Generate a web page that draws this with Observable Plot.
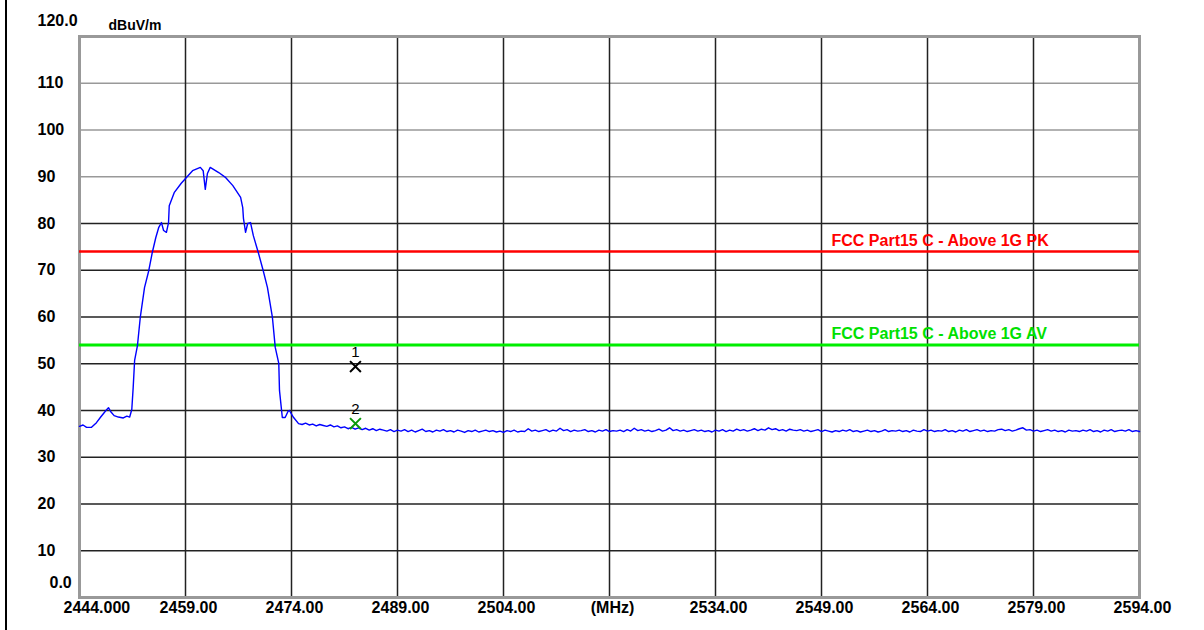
<!DOCTYPE html>
<html><head><meta charset="utf-8">
<script src="https://cdn.jsdelivr.net/npm/d3@7"></script>
<script src="https://cdn.jsdelivr.net/npm/@observablehq/plot@0.6"></script>
<style>
html,body{margin:0;padding:0;background:#fff;}
#wrap{position:relative;width:1204px;height:630px;overflow:hidden;background:#fff;}
#edge{position:absolute;left:5px;top:0;width:2px;height:630px;background:#000;z-index:2;}
svg{display:block;}
</style></head>
<body><div id="wrap"><div id="edge"></div></div>
<script>
// Axis ticks and labels
const xTicks = [2444, 2459, 2474, 2489, 2504, 2519, 2534, 2549, 2564, 2579, 2594];
const xLabels = ["2444.000", "2459.00", "2474.00", "2489.00", "2504.00", "(MHz)", "2534.00", "2549.00", "2564.00", "2579.00", "2594.00"];
const yTicks = [10, 20, 30, 40, 50, 60, 70, 80, 90, 100, 110];
const yGridGray = [90, 100, 110];
const yGridBlack = [10, 20, 30, 40, 50, 60, 70, 80];
const unitLabel = "dBuV/m";

// Limit lines
const limitNames = ["FCC Part15 C - Above 1G PK", "FCC Part15 C - Above 1G AV"];
const limitValues = [74, 54];

// Markers
const markerNames = ["1", "2"];
const markerFreq = [2483.05, 2483.05];
const markerLevel = [49.4, 37.2];

// Trace: signal part (MHz, dBuV/m)
const signalFreq = [
  2444.0, 2444.5, 2445.0, 2445.7, 2446.4, 2447.0, 2447.8, 2448.1, 2448.4, 2448.9,
  2449.5, 2450.2, 2450.7, 2451.1, 2451.4, 2451.6, 2451.8, 2452.2, 2452.6, 2453.2,
  2453.8, 2454.3, 2454.8, 2455.2, 2455.6, 2455.9, 2456.3, 2456.6, 2456.7, 2457.4,
  2458.4, 2459.1, 2460.0, 2461.1, 2461.5, 2461.8, 2462.1, 2462.5, 2463.7, 2464.7,
  2465.7, 2466.8, 2467.1, 2467.2, 2467.5, 2467.8, 2468.2, 2468.6, 2469.3, 2470.0,
  2470.6, 2471.3, 2471.7, 2472.2, 2472.3, 2472.7, 2473.1, 2473.5, 2473.7, 2474.3,
  2475.0
];
const signalLevel = [
  36.6, 36.9, 36.4, 36.4, 37.4, 38.6, 40.1, 40.6, 39.8, 38.9,
  38.6, 38.4, 38.8, 38.6, 40.2, 45.0, 50.7, 53.9, 59.9, 66.3,
  69.9, 73.8, 77.0, 79.1, 80.2, 78.5, 78.1, 80.2, 83.8, 86.6,
  88.6, 89.8, 91.3, 92.0, 91.3, 87.3, 90.7, 92.0, 90.9, 89.8,
  88.1, 85.6, 83.4, 81.1, 78.1, 80.0, 80.2, 77.4, 73.8, 69.9,
  66.3, 59.9, 53.5, 50.1, 44.3, 38.5, 38.5, 39.8, 40.0, 38.5,
  37.2
];
// Trace: noise floor part
const floorFreq = [
  2475.5, 2476.0, 2476.5, 2477.0, 2477.5, 2478.0, 2478.5, 2479.0, 2479.5, 2480.0,
  2480.5, 2481.0, 2481.5, 2482.0, 2482.5, 2483.0, 2483.5, 2484.0, 2484.5, 2485.0,
  2485.5, 2486.0, 2486.5, 2487.0, 2487.5, 2488.0, 2488.5, 2489.0, 2489.5, 2490.0,
  2490.5, 2491.0, 2491.5, 2492.0, 2492.5, 2493.0, 2493.5, 2494.0, 2494.5, 2495.0,
  2495.5, 2496.0, 2496.5, 2497.0, 2497.5, 2498.0, 2498.5, 2499.0, 2499.5, 2500.0,
  2500.5, 2501.0, 2501.5, 2502.0, 2502.5, 2503.0, 2503.5, 2504.0, 2504.5, 2505.0,
  2505.5, 2506.0, 2506.5, 2507.0, 2507.5, 2508.0, 2508.5, 2509.0, 2509.5, 2510.0,
  2510.5, 2511.0, 2511.5, 2512.0, 2512.5, 2513.0, 2513.5, 2514.0, 2514.5, 2515.0,
  2515.5, 2516.0, 2516.5, 2517.0, 2517.5, 2518.0, 2518.5, 2519.0, 2519.5, 2520.0,
  2520.5, 2521.0, 2521.5, 2522.0, 2522.5, 2523.0, 2523.5, 2524.0, 2524.5, 2525.0,
  2525.5, 2526.0, 2526.5, 2527.0, 2527.5, 2528.0, 2528.5, 2529.0, 2529.5, 2530.0,
  2530.5, 2531.0, 2531.5, 2532.0, 2532.5, 2533.0, 2533.5, 2534.0, 2534.5, 2535.0,
  2535.5, 2536.0, 2536.5, 2537.0, 2537.5, 2538.0, 2538.5, 2539.0, 2539.5, 2540.0,
  2540.5, 2541.0, 2541.5, 2542.0, 2542.5, 2543.0, 2543.5, 2544.0, 2544.5, 2545.0,
  2545.5, 2546.0, 2546.5, 2547.0, 2547.5, 2548.0, 2548.5, 2549.0, 2549.5, 2550.0,
  2550.5, 2551.0, 2551.5, 2552.0, 2552.5, 2553.0, 2553.5, 2554.0, 2554.5, 2555.0,
  2555.5, 2556.0, 2556.5, 2557.0, 2557.5, 2558.0, 2558.5, 2559.0, 2559.5, 2560.0,
  2560.5, 2561.0, 2561.5, 2562.0, 2562.5, 2563.0, 2563.5, 2564.0, 2564.5, 2565.0,
  2565.5, 2566.0, 2566.5, 2567.0, 2567.5, 2568.0, 2568.5, 2569.0, 2569.5, 2570.0,
  2570.5, 2571.0, 2571.5, 2572.0, 2572.5, 2573.0, 2573.5, 2574.0, 2574.5, 2575.0,
  2575.5, 2576.0, 2576.5, 2577.0, 2577.5, 2578.0, 2578.5, 2579.0, 2579.5, 2580.0,
  2580.5, 2581.0, 2581.5, 2582.0, 2582.5, 2583.0, 2583.5, 2584.0, 2584.5, 2585.0,
  2585.5, 2586.0, 2586.5, 2587.0, 2587.5, 2588.0, 2588.5, 2589.0, 2589.5, 2590.0,
  2590.5, 2591.0, 2591.5, 2592.0, 2592.5, 2593.0, 2593.5, 2594.0
];
const floorLevel = [
  37.0, 37.3, 36.9, 37.1, 36.7, 37.0, 36.8, 36.6, 36.9, 36.5,
  36.7, 36.3, 36.5, 36.1, 36.4, 36.0, 36.3, 35.9, 36.2, 35.8,
  36.1, 35.7, 36.0, 35.8, 35.6, 35.9, 35.5, 35.8, 35.6, 35.9,
  35.5, 35.8, 35.4, 35.7, 36.0, 35.5, 35.7, 35.4, 35.8, 35.6,
  35.9, 35.5, 35.7, 35.4, 35.8, 35.6, 35.3, 35.7, 35.5, 35.8,
  35.4, 35.6, 35.8, 35.5, 35.7, 35.4, 35.6, 35.3, 35.7, 35.5,
  35.8, 35.4, 35.6, 35.5, 36.1, 35.6, 35.8, 35.5, 35.7, 35.9,
  35.5, 35.8, 35.6, 36.2, 35.7, 35.9, 35.5, 35.8, 35.6, 35.7,
  35.9, 35.5, 35.7, 35.4, 35.8, 35.6, 35.9, 35.5, 35.7, 35.6,
  35.8, 35.5, 35.9, 35.6, 36.2, 35.7, 35.9, 35.6, 35.8, 35.5,
  35.7, 36.0, 35.6, 35.8, 36.3, 35.7, 35.9, 35.6, 35.8, 35.5,
  35.7, 35.9, 35.6, 35.8, 35.5, 35.7, 35.4, 35.8, 35.6, 35.9,
  35.5, 35.8, 35.6, 36.0, 35.7, 35.9, 35.6, 35.8, 36.1, 35.7,
  36.0, 35.8, 36.3, 35.9, 36.1, 35.7, 35.9, 35.6, 36.0, 35.8,
  35.7, 35.9, 35.6, 35.8, 35.5, 35.7, 35.9, 35.5, 35.8, 35.6,
  35.4, 35.7, 35.5, 35.8, 35.6, 35.9, 35.5, 35.7, 35.4, 35.6,
  35.8, 35.5, 35.7, 35.4, 35.6, 35.9, 35.5, 35.7, 35.6, 35.8,
  35.5, 35.7, 35.4, 35.8, 35.6, 35.5, 35.9, 35.6, 35.8, 35.5,
  35.7, 35.6, 35.9, 35.5, 35.7, 35.4, 35.8, 35.6, 35.9, 35.5,
  35.7, 35.9, 35.6, 35.8, 35.5, 35.7, 35.6, 35.9, 36.0, 35.7,
  35.9, 35.6, 35.8, 36.1, 36.3, 35.8, 35.9, 35.6, 35.8, 35.5,
  35.7, 35.9, 35.6, 35.8, 35.5, 35.7, 35.4, 35.8, 35.6, 35.7,
  35.5, 35.8, 35.6, 35.9, 35.5, 35.7, 35.4, 35.8, 35.6, 35.9,
  35.5, 35.7, 35.8, 35.6, 35.9, 35.5, 35.7, 35.5
];

const trace = signalFreq.map((f, i) => ({f, v: signalLevel[i]}))
  .concat(floorFreq.map((f, i) => ({f, v: floorLevel[i]})));
const markers = markerNames.map((n, i) => ({n, f: markerFreq[i], v: markerLevel[i]}));
const limits = limitNames.map((n, i) => ({n, v: limitValues[i]}));
const xLab = xTicks.map((t, i) => ({t, s: xLabels[i]}));

const font = "'Liberation Sans', Arial, sans-serif";
const lab = {fill: "#000", fontSize: 16, fontWeight: "bold", letterSpacing: "0.5px"};

const chart = Plot.plot({
  width: 1204, height: 630,
  marginLeft: 79, marginRight: 65, marginTop: 36, marginBottom: 33,
  x: {domain: [2444, 2594], axis: null},
  y: {domain: [0, 120], axis: null},
  style: {fontFamily: font, background: "#fff", overflow: "visible"},
  marks: [
    Plot.ruleY(yGridGray, {stroke: "#999", strokeWidth: 1.5}),
    Plot.ruleY(yGridBlack, {stroke: "#222", strokeWidth: 1.5}),
    Plot.ruleX(xTicks.slice(1, -1), {stroke: "#222", strokeWidth: 1.5}),
    Plot.frame({stroke: "#999", strokeWidth: 3}),
    Plot.ruleY([limits[0]], {y: "v", stroke: "#ff0000", strokeWidth: 2.5}),
    Plot.ruleY([limits[1]], {y: "v", stroke: "#00ee00", strokeWidth: 3}),
    Plot.text([limits[0]], {y: "v", text: "n", frameAnchor: "right", textAnchor: "start", dx: -308, dy: -11,
      fill: "#ff0000", fontSize: 16, fontWeight: "bold", letterSpacing: "0.3px"}),
    Plot.text([limits[1]], {y: "v", text: "n", frameAnchor: "right", textAnchor: "start", dx: -308, dy: -11,
      fill: "#00e000", fontSize: 16, fontWeight: "bold", letterSpacing: "0.3px"}),
    Plot.line(trace, {x: "f", y: "v", stroke: "#0000ff", strokeWidth: 1.4}),
    Plot.dot([markers[0]], {x: "f", y: "v", symbol: "times", r: 5, stroke: "#000", strokeWidth: 2}),
    Plot.dot([markers[1]], {x: "f", y: "v", symbol: "times", r: 5, stroke: "#0a9a0a", strokeWidth: 2}),
    Plot.text(markers, {x: "f", y: "v", text: "n", dy: -14, fill: "#000", fontSize: 15}),
    // y labels
    Plot.text(yTicks, {y: d => d, text: d => String(d), frameAnchor: "left", textAnchor: "start", dx: -42, ...lab}),
    Plot.text([120], {y: d => d, text: () => "120.0", frameAnchor: "left", textAnchor: "start", dx: -42, dy: -16, ...lab}),
    Plot.text([0], {y: d => d, text: () => "0.0", frameAnchor: "left", textAnchor: "start", dx: -30, dy: -15, ...lab}),
    Plot.text([unitLabel], {text: d => d, frameAnchor: "top-left", textAnchor: "start", dx: 29, dy: -16,
      fill: "#000", fontSize: 14, fontWeight: "bold", letterSpacing: "3px"}),
    // x labels
    Plot.text([xLab[0]], {x: "t", text: "s", frameAnchor: "bottom", textAnchor: "start", dx: -16, dy: 15, ...lab}),
    Plot.text(xLab.slice(1), {x: "t", text: "s", frameAnchor: "bottom", dx: 3, dy: 15, ...lab})
  ]
});
document.getElementById("wrap").appendChild(chart);
</script>
</body></html>
